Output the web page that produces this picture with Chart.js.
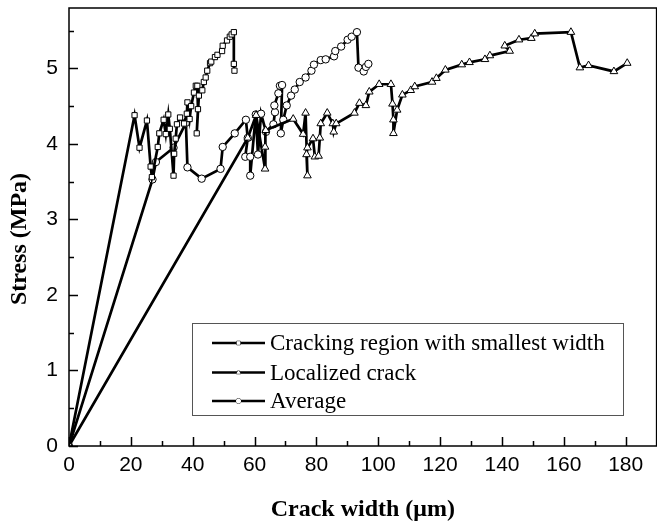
<!DOCTYPE html>
<html>
<head>
<meta charset="utf-8">
<script src="https://cdn.jsdelivr.net/npm/chart.js@4.4.1/dist/chart.umd.min.js"></script>
<style>
  html, body { margin: 0; padding: 0; background: #fff; overflow: hidden; }
  #wrap { width: 657px; height: 526px; overflow: hidden; }
</style>
</head>
<body>
<div id="wrap"><canvas id="chart" width="662" height="526"></canvas></div>
<script>
// crack width (um) / stress (MPa)
const smallestX = [0, 21.2, 22.8, 25.2, 26.4, 26.8, 28.7, 29.2, 30.6, 31.3, 32.1, 32.6, 33.8, 34.0, 34.5, 34.9, 35.9, 37.2, 38.1, 38.3, 39.0, 39.5, 40.4, 41.0, 41.5, 41.7, 41.3, 42.0, 43.1, 43.6, 44.2, 44.7, 45.6, 46.0, 47.2, 48.0, 49.5, 49.7, 51.1, 52.0, 52.6, 53.3, 53.3, 53.5];
const smallestY = [0, 4.38, 3.95, 4.31, 3.70, 3.56, 3.96, 4.14, 4.32, 4.13, 4.39, 4.20, 3.58, 3.87, 4.07, 4.26, 4.35, 4.27, 4.40, 4.55, 4.33, 4.50, 4.68, 4.77, 4.77, 4.46, 4.14, 4.64, 4.71, 4.82, 4.88, 4.97, 5.07, 5.09, 5.15, 5.18, 5.23, 5.30, 5.37, 5.42, 5.45, 5.48, 5.06, 4.97];

const localX = [0, 57.8, 60.5, 63.4, 63.4, 63.6, 72.5, 75.7, 76.5, 77.1, 76.8, 77.1, 78.9, 79.5, 80.7, 81.1, 81.4, 83.5, 85.3, 85.6, 86.4, 92.3, 93.9, 96.0, 97.1, 100.3, 104.1, 104.6, 104.9, 104.9, 106.1, 107.8, 110.5, 111.8, 117.4, 118.8, 121.7, 127.0, 129.5, 134.5, 136.1, 142.5, 140.9, 145.5, 149.5, 150.6, 162.3, 165.2, 168.0, 176.2, 180.5];
const localY = [0, 4.08, 4.38, 3.67, 3.96, 4.18, 4.33, 4.13, 4.41, 3.58, 3.86, 3.95, 4.07, 3.83, 3.84, 4.08, 4.27, 4.41, 4.27, 4.16, 4.27, 4.41, 4.54, 4.51, 4.69, 4.79, 4.79, 4.53, 4.32, 4.14, 4.45, 4.65, 4.71, 4.76, 4.82, 4.87, 4.98, 5.05, 5.08, 5.12, 5.17, 5.23, 5.30, 5.38, 5.40, 5.46, 5.48, 5.01, 5.04, 4.96, 5.07];

const averageX = [0, 27.0, 28.1, 33.8, 37.8, 38.3, 42.9, 49.0, 49.7, 53.6, 57.2, 57.8, 57.0, 58.6, 58.6, 60.4, 61.1, 62.1, 63.7, 66.1, 66.6, 66.4, 67.7, 68.2, 68.9, 68.5, 69.3, 70.4, 71.8, 73.0, 74.6, 76.5, 78.4, 79.2, 81.4, 83.0, 85.7, 86.1, 88.0, 90.1, 91.4, 93.1, 93.6, 95.3, 96.0, 96.8];
const averageY = [0, 3.53, 3.76, 3.95, 4.28, 3.69, 3.54, 3.67, 3.96, 4.14, 4.32, 4.08, 3.83, 3.83, 3.58, 4.39, 3.86, 4.40, 4.16, 4.26, 4.42, 4.51, 4.67, 4.77, 4.78, 4.14, 4.32, 4.51, 4.64, 4.72, 4.82, 4.88, 4.97, 5.05, 5.11, 5.12, 5.16, 5.23, 5.29, 5.38, 5.42, 5.48, 5.01, 4.96, 5.02, 5.06];

const seriesNames = ['Cracking region with smallest width', 'Localized crack', 'Average'];
const seriesMarkers = ['rect', 'triangle', 'circle'];

const xMajorTicks = [0, 20, 40, 60, 80, 100, 120, 140, 160, 180];
const xMinorTicks = [10, 30, 50, 70, 90, 110, 130, 150, 170];
const yMajorTicks = [0, 1, 2, 3, 4, 5];
const yMinorTicks = [0.5, 1.5, 2.5, 3.5, 4.5, 5.5];

const TICK_FONT = { family: 'Liberation Sans', size: 21 };
const TITLE_FONT = { family: 'Liberation Serif', size: 24, weight: 'bold' };

function pairs(xs, ys) {
  return xs.map((x, i) => ({ x: x, y: ys[i] }));
}

function makeSeries(idx, xs, ys) {
  return {
    label: seriesNames[idx],
    data: pairs(xs, ys),
    borderColor: '#000',
    borderWidth: 2.7,
    pointStyle: seriesMarkers[idx],
    pointRadius: seriesMarkers[idx] === 'triangle' ? 4.4 : 3.7,
    pointBackgroundColor: '#fff',
    pointBorderColor: '#000',
    pointBorderWidth: 1,
    tension: 0,
    fill: false
  };
}

function setTicks(major, minor) {
  return function (scale) {
    scale.ticks = major.concat(minor).sort((a, b) => a - b).map(v => ({ value: v }));
  };
}

// frame, inward tick marks and the boxed legend
const paperLook = {
  id: 'paperLook',
  afterDraw(chart) {
    const ctx = chart.ctx;
    const area = chart.chartArea;
    const xs = chart.scales.x;
    const ys = chart.scales.y;
    ctx.save();
    ctx.strokeStyle = '#000';
    ctx.lineWidth = 1.5;
    ctx.strokeRect(area.left, area.top, area.right - area.left, area.bottom - area.top);

    ctx.beginPath();
    xMajorTicks.concat(xMinorTicks).forEach(v => {
      const px = Math.round(xs.getPixelForValue(v)) + 0.5;
      const len = xMajorTicks.includes(v) ? 9 : 5;
      ctx.moveTo(px, area.bottom);
      ctx.lineTo(px, area.bottom - len);
    });
    yMajorTicks.concat(yMinorTicks).forEach(v => {
      const py = Math.round(ys.getPixelForValue(v)) + 0.5;
      const len = yMajorTicks.includes(v) ? 9 : 5;
      ctx.moveTo(area.left, py);
      ctx.lineTo(area.left + len, py);
    });
    ctx.stroke();

    // legend box
    const box = { left: 192, top: 323, right: 623, bottom: 415 };
    ctx.fillStyle = '#fff';
    ctx.fillRect(box.left, box.top, box.right - box.left, box.bottom - box.top);
    ctx.strokeStyle = '#555';
    ctx.lineWidth = 1;
    ctx.strokeRect(box.left + 0.5, box.top + 0.5, box.right - box.left, box.bottom - box.top);

    const rows = [343, 372.5, 401];
    ctx.font = '23px "Liberation Serif"';
    ctx.textBaseline = 'middle';
    ctx.textAlign = 'left';
    chart.data.datasets.forEach((ds, i) => {
      const y = rows[i];
      ctx.strokeStyle = '#000';
      ctx.lineWidth = 2.5;
      ctx.beginPath();
      ctx.moveTo(212, y);
      ctx.lineTo(265, y);
      ctx.stroke();
      ctx.lineWidth = 1;
      ctx.fillStyle = '#fff';
      Chart.helpers.drawPoint(ctx, { pointStyle: ds.pointStyle, radius: 2.5, borderWidth: 1, rotation: 0 }, 238.5, y);
      ctx.fill();
      ctx.fillStyle = '#000';
      ctx.fillText(ds.label, 270, y + 1);
    });
    ctx.restore();
  }
};

new Chart(document.getElementById('chart'), {
  type: 'line',
  data: {
    datasets: [
      makeSeries(0, smallestX, smallestY),
      makeSeries(1, localX, localY),
      makeSeries(2, averageX, averageY)
    ]
  },
  options: {
    responsive: false,
    animation: false,
    events: [],
    layout: { padding: { top: 8, right: 1, left: 0, bottom: 0 } },
    plugins: {
      legend: { display: false },
      tooltip: { enabled: false }
    },
    scales: {
      x: {
        type: 'linear',
        min: 0,
        max: 190,
        afterBuildTicks: setTicks(xMajorTicks, xMinorTicks),
        afterFit(scale) {
          scale.height = 80;
          scale.paddingLeft = 0;
          scale.paddingRight = 0;
        },
        grid: { display: false, drawTicks: false },
        border: { display: false },
        ticks: {
          color: '#000',
          font: TICK_FONT,
          padding: 7,
          maxRotation: 0,
          autoSkip: false,
          callback: v => (xMajorTicks.includes(v) ? String(v) : '')
        },
        title: {
          display: true,
          text: 'Crack width (\u03BCm)',
          color: '#000',
          font: TITLE_FONT,
          padding: { top: 0, bottom: 2 }
        }
      },
      y: {
        type: 'linear',
        min: 0,
        max: 5.8,
        afterBuildTicks: setTicks(yMajorTicks, yMinorTicks),
        afterFit(scale) {
          scale.width = 69;
          scale.paddingTop = 0;
          scale.paddingBottom = 0;
        },
        grid: { display: false, drawTicks: false },
        border: { display: false },
        ticks: {
          color: '#000',
          font: TICK_FONT,
          padding: 11,
          autoSkip: false,
          callback: v => (yMajorTicks.includes(v) ? String(v) : '')
        },
        title: {
          display: true,
          text: 'Stress (MPa)    ',
          color: '#000',
          font: TITLE_FONT,
          padding: { top: 5, bottom: 0 }
        }
      }
    }
  },
  plugins: [paperLook]
});
</script>
</body>
</html>
